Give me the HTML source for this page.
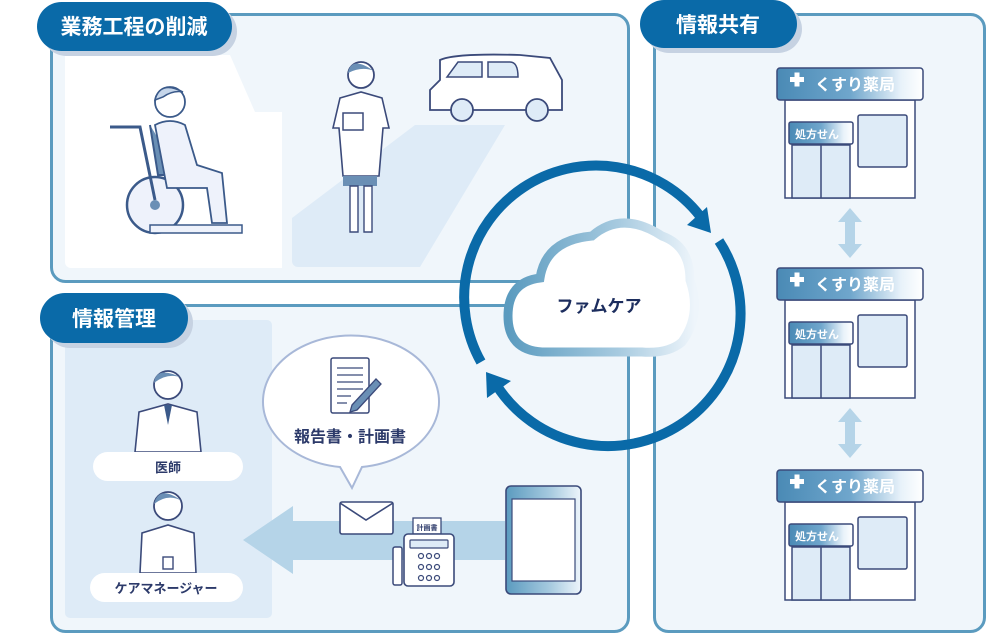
<!DOCTYPE html>
<html><head><meta charset="utf-8"><style>
body{margin:0;background:#fff}
svg{display:block}
text{font-family:"Liberation Sans","Noto Sans CJK JP",sans-serif;font-weight:bold}
</style></head><body>
<svg width="987" height="635" viewBox="0 0 987 635" xmlns="http://www.w3.org/2000/svg">
<defs>
<linearGradient id="hd" x1="0" x2="1"><stop offset="0" stop-color="#4a8ab5"/><stop offset="0.5" stop-color="#6fa6cc"/><stop offset="0.85" stop-color="#e8f2fa"/><stop offset="1" stop-color="#fff"/></linearGradient>
<linearGradient id="cl" x1="0" x2="1"><stop offset="0" stop-color="#5b9bbf"/><stop offset="0.6" stop-color="#a8cbe0"/><stop offset="1" stop-color="#eef5fb"/></linearGradient>
<g id="ph">
<rect x="785" y="100" width="130" height="98" fill="#fff" stroke="#3b4a7a" stroke-width="1.5"/>
<rect x="777" y="68" width="146" height="32" rx="3" fill="url(#hd)" stroke="#3b4a7a" stroke-width="1.5"/>
<rect x="790" y="77" width="14" height="5" fill="#fff"/><rect x="794.5" y="72.5" width="5" height="14" fill="#fff"/>
<text x="815" y="90" font-size="16" fill="#fff" font-weight="normal">くすり薬局</text>
<rect x="792" y="145" width="58" height="53" fill="#deebf7" stroke="#3b4a7a" stroke-width="1.5"/>
<line x1="821" y1="145" x2="821" y2="198" stroke="#3b4a7a" stroke-width="1.5"/>
<rect x="789" y="122" width="64" height="22" rx="2" fill="url(#hd)" stroke="#3b4a7a" stroke-width="1.5"/>
<text x="795" y="138" font-size="11" fill="#fff" font-weight="normal">処方せん</text>
<rect x="858" y="115" width="49" height="52" rx="2" fill="#deebf7" stroke="#3b4a7a" stroke-width="1.5"/>
</g>
<g id="da"><path d="M850 208 l12 14 h-7 v22 h7 l-12 14 l-12 -14 h7 v-22 h-7z" fill="#b5d4e8"/></g>
</defs>

<rect x="51.5" y="14.5" width="577" height="267" rx="14" fill="#f0f6fb" stroke="#5b9bbf" stroke-width="3"/>
<rect x="51.5" y="305.5" width="577" height="326" rx="14" fill="#f0f6fb" stroke="#5b9bbf" stroke-width="3"/>
<rect x="654.5" y="14.5" width="330" height="617" rx="14" fill="#f0f6fb" stroke="#5b9bbf" stroke-width="3"/>

<path d="M65 55 H230 L255 112 H282 V268 H71 a6 6 0 0 1 -6 -6z" fill="#fff"/>
<path d="M292 218 L415 125 H505 L420 267 H298 a6 6 0 0 1 -6 -6z" fill="#deebf7"/>
<circle cx="155" cy="205" r="28" fill="#eef2fb" stroke="#3b5a8a" stroke-width="2.5"/>
<circle cx="155" cy="205" r="5" fill="#6a8fb5"/>
<path d="M110 127 H140 L155 200" fill="none" stroke="#3b5a8a" stroke-width="3"/>
<path d="M150 125 L158 175 H180" fill="#6a8fb5" stroke="#3b5a8a" stroke-width="2"/>
<path d="M155 125 q15 -8 30 0 l12 40 l25 8 l5 50 h-15 l-5 -35 h-40 z" fill="#eef2fb" stroke="#3b5a8a" stroke-width="1.8"/>
<circle cx="170" cy="102" r="15" fill="#fff" stroke="#3b5a8a" stroke-width="1.8"/>
<path d="M155 100 q5 -20 28 -8 q-10 -2 -20 5z" fill="#c6d6ea" stroke="#3b5a8a" stroke-width="1.5"/>
<path d="M150 225 h92 v8 h-92z" fill="#eef2fb" stroke="#3b5a8a" stroke-width="1.5"/>
<circle cx="361" cy="75" r="13" fill="#fff" stroke="#3b4a7a" stroke-width="1.8"/>
<path d="M348 73 q3 -18 26 -2 q-12 -5 -26 2z" fill="#6a8fb5"/>
<path d="M340 98 l21 -6 l21 6 l7 30 h-6 l-4 48 h-36 l-4 -48 h-6z" fill="#fff" stroke="#3b4a7a" stroke-width="1.6"/>
<rect x="343" y="113" width="20" height="17" fill="#fff" stroke="#3b4a7a" stroke-width="1.5"/>
<rect x="343" y="176" width="34" height="10" fill="#6a8fb5"/>
<path d="M350 186 h8 v46 h-8z M364 186 h8 v46 h-8z" fill="#fff" stroke="#3b4a7a" stroke-width="1.4"/>
<path d="M440 60 Q455 53 520 55 L550 58 L562 80 V110 H430 V90 L440 80 Z" fill="#fff" stroke="#3b4a7a" stroke-width="1.8"/>
<path d="M458 62 H482 V77 H447 Z M488 62 H510 Q518 62 518 77 H488Z" fill="#deebf7" stroke="#3b4a7a" stroke-width="1.5"/>
<circle cx="462" cy="110" r="11" fill="#deebf7" stroke="#3b4a7a" stroke-width="1.8"/>
<circle cx="537" cy="110" r="11" fill="#deebf7" stroke="#3b4a7a" stroke-width="1.8"/>

<use href="#ph"/><use href="#ph" y="200"/><use href="#ph" y="402"/>
<use href="#da"/><use href="#da" y="200"/>

<rect x="65" y="320" width="207" height="298" rx="5" fill="#deebf7"/>
<circle cx="168" cy="385" r="14" fill="#fff" stroke="#3b4a7a" stroke-width="1.8"/>
<path d="M154 383 q2 -18 28 -5 q-14 -6 -28 5z" fill="#6a8fb5"/>
<path d="M135 452 l4 -40 l29 -8 l29 8 l4 40z" fill="#fff" stroke="#3b4a7a" stroke-width="1.6"/>
<path d="M164 405 l4 20 l4 -20z" fill="#3b5a8a"/>
<rect x="93" y="452" width="150" height="29" rx="14.5" fill="#fff"/>
<text x="168" y="472" font-size="13" fill="#2c3a6a" text-anchor="middle">医師</text>
<circle cx="168" cy="506" r="14" fill="#fff" stroke="#3b4a7a" stroke-width="1.8"/>
<path d="M154 504 q5 -20 28 -3 q-14 -8 -28 3z" fill="#6a8fb5"/>
<path d="M140 573 l2 -40 l26 -8 l26 8 l2 40z" fill="#fff" stroke="#3b4a7a" stroke-width="1.6"/>
<rect x="163" y="557" width="10" height="12" fill="#fff" stroke="#3b4a7a" stroke-width="1.4"/>
<rect x="90" y="573" width="153" height="29" rx="14.5" fill="#fff"/>
<text x="166" y="593" font-size="13" fill="#2c3a6a" text-anchor="middle">ケアマネージャー</text>
<path d="M243 540 L293 506 V521 H505 V560 H293 V574 Z" fill="#b5d4e8"/>
<path d="M340 467 A88 66 0 1 1 362 467 L352 488 Z" fill="#fff" stroke="#a8b8d8" stroke-width="2"/>
<rect x="331" y="358" width="38" height="55" rx="2" fill="#fff" stroke="#3b4a7a" stroke-width="1.5"/>
<path d="M337 368h26M337 375h26M337 382h26M337 389h26M337 396h14M337 403h10" stroke="#3b4a7a" stroke-width="1.3"/>
<path d="M352 405 l24 -26 l5 5 l-24 26 l-7 2z" fill="#6a8fb5" stroke="#3b4a7a" stroke-width="1.3"/>
<text x="350" y="442" font-size="16" fill="#2c3a6a" text-anchor="middle">報告書・計画書</text>
<rect x="340" y="502" width="53" height="32" rx="2" fill="#fff" stroke="#3b4a7a" stroke-width="1.6"/>
<path d="M340 503 l26 17 l27 -17" fill="none" stroke="#3b4a7a" stroke-width="1.6"/>
<rect x="413" y="518" width="28" height="16" fill="#fff" stroke="#3b4a7a" stroke-width="1.3"/>
<text x="427" y="530" font-size="7" fill="#2c3a6a" text-anchor="middle">計画書</text>
<rect x="393" y="547" width="9" height="38" rx="2" fill="#fff" stroke="#3b4a7a" stroke-width="1.5"/>
<rect x="404" y="534" width="50" height="52" rx="4" fill="#fff" stroke="#3b4a7a" stroke-width="1.6"/>
<rect x="410" y="540" width="38" height="8" rx="1" fill="#deebf7" stroke="#3b4a7a" stroke-width="1.2"/>
<g fill="none" stroke="#3b4a7a" stroke-width="1.2">
<circle cx="421" cy="556" r="2.5"/><circle cx="429" cy="556" r="2.5"/><circle cx="437" cy="556" r="2.5"/>
<circle cx="421" cy="567" r="2.5"/><circle cx="429" cy="567" r="2.5"/><circle cx="437" cy="567" r="2.5"/>
<circle cx="421" cy="578" r="2.5"/><circle cx="429" cy="578" r="2.5"/><circle cx="437" cy="578" r="2.5"/></g>
<rect x="506" y="486" width="75" height="108" rx="5" fill="url(#cl)" stroke="#3b4a7a" stroke-width="1.6"/>
<rect x="512" y="499" width="63" height="82" fill="#fff" stroke="#3b4a7a" stroke-width="1.2"/>

<!-- cycle arrows -->
<path d="M481 362 A132 132 0 0 1 700 216" fill="none" stroke="#0a6aa8" stroke-width="10"/>
<path d="M711 233 L687 225 L707 207 Z" fill="#0a6aa8"/>
<path d="M719 241 A132 132 0 0 1 497 386" fill="none" stroke="#0a6aa8" stroke-width="10"/>
<path d="M486 372 L487 398 L511 381 Z" fill="#0a6aa8"/>
<!-- cloud -->
<path d="M542 352 Q508 350 508 316 Q508 282 540 278 Q546 240 592 236 Q622 210 662 236 Q690 246 690 280 Q702 315 682 342 Q668 354 642 352 Z" fill="#fff" stroke="url(#cl)" stroke-width="9"/>
<text x="599" y="312" font-size="17" fill="#1c2d5e" text-anchor="middle">ファムケア</text>

<rect x="42" y="7" width="195" height="49" rx="24.5" fill="#c6d2e2"/>
<rect x="37" y="2" width="195" height="49" rx="24.5" fill="#0a6aa8"/>
<text x="134" y="34" font-size="21" fill="#fff" text-anchor="middle">業務工程の削減</text>
<rect x="645" y="5" width="157" height="48" rx="24" fill="#c6d2e2"/>
<rect x="640" y="0" width="157" height="48" rx="24" fill="#0a6aa8"/>
<text x="718" y="32" font-size="21" fill="#fff" text-anchor="middle">情報共有</text>
<rect x="45" y="298" width="148" height="50" rx="25" fill="#c6d2e2"/>
<rect x="40" y="293" width="148" height="50" rx="25" fill="#0a6aa8"/>
<text x="114" y="326" font-size="21" fill="#fff" text-anchor="middle">情報管理</text>
</svg>
</body></html>
